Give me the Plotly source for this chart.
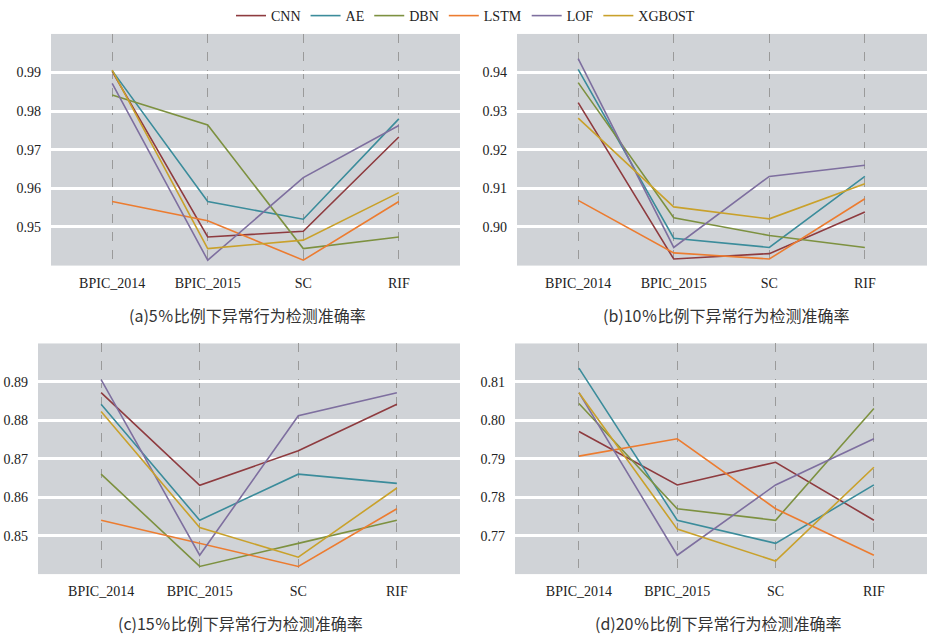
import plotly.graph_objects as go

categories = ["BPIC_2014", "BPIC_2015", "SC", "RIF"]
models = ["CNN", "AE", "DBN", "LSTM", "LOF", "XGBOST"]
colors = ["#8E3B3F", "#3B8C9B", "#7D9140", "#EC7C30", "#7E6F9F", "#C9A12B"]

# (a) 5%
acc_5 = {
    "CNN":    [0.9903, 0.9474, 0.9489, 0.9733],
    "AE":     [0.9905, 0.9566, 0.9520, 0.9780],
    "DBN":    [0.9842, 0.9764, 0.9444, 0.9474],
    "LSTM":   [0.9566, 0.9516, 0.9414, 0.9566],
    "LOF":    [0.9872, 0.9414, 0.9628, 0.9763],
    "XGBOST": [0.9906, 0.9444, 0.9466, 0.9589],
}
# (b) 10%
acc_10 = {
    "CNN":    [0.9322, 0.8917, 0.8931, 0.9039],
    "AE":     [0.9408, 0.8971, 0.8947, 0.9131],
    "DBN":    [0.9374, 0.9024, 0.8978, 0.8947],
    "LSTM":   [0.9069, 0.8933, 0.8917, 0.9073],
    "LOF":    [0.9436, 0.8947, 0.9131, 0.9160],
    "XGBOST": [0.9282, 0.9052, 0.9021, 0.9112],
}
# (c) 15%
acc_15 = {
    "CNN":    [0.8872, 0.8631, 0.8721, 0.8842],
    "AE":     [0.8842, 0.8540, 0.8660, 0.8636],
    "DBN":    [0.8660, 0.8420, 0.8480, 0.8540],
    "LSTM":   [0.8540, 0.8480, 0.8420, 0.8570],
    "LOF":    [0.8906, 0.8449, 0.8812, 0.8872],
    "XGBOST": [0.8823, 0.8521, 0.8444, 0.8624],
}
# (d) 20%
acc_20 = {
    "CNN":    [0.7971, 0.7832, 0.7891, 0.7740],
    "AE":     [0.8136, 0.7740, 0.7680, 0.7832],
    "DBN":    [0.8044, 0.7770, 0.7740, 0.8031],
    "LSTM":   [0.7907, 0.7952, 0.7770, 0.7649],
    "LOF":    [0.8072, 0.7649, 0.7832, 0.7952],
    "XGBOST": [0.8072, 0.7717, 0.7634, 0.7878],
}

yticks_5 = [0.95, 0.96, 0.97, 0.98, 0.99]
yticks_10 = [0.90, 0.91, 0.92, 0.93, 0.94]
yticks_15 = [0.85, 0.86, 0.87, 0.88, 0.89]
yticks_20 = [0.77, 0.78, 0.79, 0.80, 0.81]
yranges = [[0.940, 1.000], [0.890, 0.950], [0.840, 0.900], [0.760, 0.820]]

titles = ["(a)5％比例下异常行为检测准确率", "(b)10％比例下异常行为检测准确率",
          "(c)15％比例下异常行为检测准确率", "(d)20％比例下异常行为检测准确率"]

W, H = 931, 637
# panel pixel boxes: left, right, top, bottom
boxes = [(51, 460, 33, 265), (517, 927, 33, 265), (38, 460, 343, 574), (515, 927, 343, 574)]
xranges = [[-0.64, 3.64], [-0.64, 3.65], [-0.64, 3.64], [-0.65, 3.54]]
title_pos = [(248, 314), (726, 314), (240, 623), (718, 623)]

datasets = [acc_5, acc_10, acc_15, acc_20]
ytick_sets = [yticks_5, yticks_10, yticks_15, yticks_20]

fig = go.Figure()
serif = "Liberation Serif, Times New Roman, serif"
for p in range(4):
    sfx = "" if p == 0 else str(p + 1)
    for m, c in zip(models, colors):
        fig.add_trace(go.Scatter(
            x=categories, y=datasets[p][m], mode="lines", name=m,
            line=dict(color=c, width=1.6),
            xaxis="x" + sfx, yaxis="y" + sfx,
            showlegend=(p == 0), legendgroup=m,
        ))
    l, r, t, b = boxes[p]
    fig.layout["xaxis" + sfx] = dict(
        domain=[l / W, r / W], anchor="y" + sfx,
        type="category", categoryorder="array", categoryarray=categories,
        range=xranges[p], showgrid=True, gridcolor="#9a9a9a", griddash="dash",
        gridwidth=1, zeroline=False, showline=False, ticks="",
        ticklabelstandoff=7,
        tickfont=dict(family=serif, size=14, color="#222"),
    )
    fig.layout["yaxis" + sfx] = dict(
        domain=[1 - b / H, 1 - t / H], anchor="x" + sfx,
        range=yranges[p], tickvals=ytick_sets[p], tickformat=".2f",
        showgrid=True, gridcolor="white", gridwidth=2.5, zeroline=False,
        showline=False, ticks="", ticklabelstandoff=9,
        tickfont=dict(family=serif, size=14, color="#222"),
    )
    fig.add_annotation(
        x=title_pos[p][0] / W, y=1 - title_pos[p][1] / H, xref="paper", yref="paper",
        text=titles[p], showarrow=False, xanchor="center", yanchor="middle",
        font=dict(family="Noto Sans CJK SC", size=16, color="#333"),
    )

fig.update_layout(
    width=W, height=H, margin=dict(l=0, r=0, t=0, b=0),
    paper_bgcolor="white", plot_bgcolor="#D0D3D7",
    legend=dict(orientation="h", x=0.5, xanchor="center", y=1 - 15 / H, yanchor="middle",
                font=dict(family=serif, size=14, color="#222"),
                itemwidth=30, tracegroupgap=0, bgcolor="rgba(0,0,0,0)"),
    showlegend=True,
)

fig.write_html("out.html", config={"displayModeBar": False},
               post_script="document.body.style.margin='0';")
